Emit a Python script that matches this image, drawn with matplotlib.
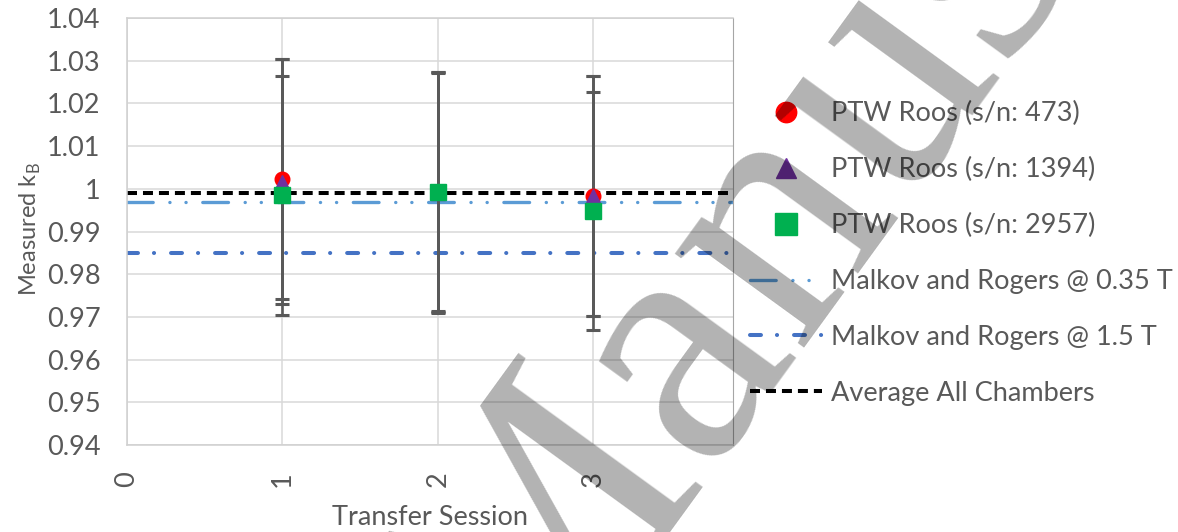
import numpy as np
import matplotlib
matplotlib.use("Agg")
import matplotlib.pyplot as plt
from matplotlib.ticker import FuncFormatter

# --- data ---
sessions = [1, 2, 3]
kb_473 = [1.0023, 0.9993, 0.9983]
kb_1394 = [1.0017, 0.9990, 0.9983]
kb_2957 = [0.9985, 0.9993, 0.9948]
err_473 = [0.0280, 0.0281, 0.0280]
err_1394 = [0.0286, 0.0281, 0.0281]
err_2957 = [0.0280, 0.0280, 0.0279]

malkov_035 = 0.9970
malkov_15 = 0.9849
avg_all = 0.9991

labels = ["PTW Roos (s/n: 473)", "PTW Roos (s/n: 1394)", "PTW Roos (s/n: 2957)",
          "Malkov and Rogers @ 0.35 T", "Malkov and Rogers @ 1.5 T",
          "Average All Chambers"]

plt.rcParams['font.family'] = ['Lato', 'DejaVu Sans']
plt.rcParams['lines.scale_dashes'] = False
txt = '#595959'
fs = 19.5

fig = plt.figure(figsize=(11.78, 5.32), dpi=100)
ax = fig.add_axes([127 / 1178, 1 - 445 / 532, 606 / 1178, 427 / 532])

xmin, xmax = 0, 3.9
ax.set_xlim(xmin, xmax)
ax.set_ylim(0.94, 1.04)

# reference lines
h035, = ax.plot([xmin, xmax], [malkov_035] * 2, color='#5B9BD5', lw=2.4,
                dashes=(18.5, 12, 0.1, 11.5, 0.1, 12), dash_capstyle='round', zorder=2)
h15, = ax.plot([xmin, xmax], [malkov_15] * 2, color='#4472C4', lw=2.9,
               dashes=(7.9, 11.5, 0.1, 12.2), dash_capstyle='round', zorder=2)
havg, = ax.plot([xmin, xmax], [avg_all] * 2, color='black', lw=2.9,
                dashes=(7.2, 4.3), dash_capstyle='butt', zorder=2)

# error bars then markers
for vals, errs in [(kb_473, err_473), (kb_1394, err_1394), (kb_2957, err_2957)]:
    ax.errorbar(sessions, vals, yerr=errs, fmt='none', ecolor='#595959',
                elinewidth=1.9, capsize=5, capthick=2.2, zorder=3)

h473, = ax.plot(sessions, kb_473, 'o', color='#FF0000', ms=10.5, mec='#FF0000', ls='none', zorder=4)
h1394, = ax.plot(sessions, kb_1394, '^', color='#7030A0', ms=10, mec='#7030A0', ls='none', zorder=5)
h2957, = ax.plot(sessions, kb_2957, 's', color='#00B050', ms=11, mec='#00B050', ls='none', zorder=6)

ax.set_xticks([0, 1, 2, 3])
ax.set_yticks(np.arange(0.94, 1.0401, 0.01))
ax.yaxis.set_major_formatter(FuncFormatter(lambda v, p: f"{round(v, 2):g}"))
ax.tick_params(axis='both', length=0, labelsize=fs, labelcolor=txt)
ax.tick_params(axis='x', rotation=90, pad=19)
ax.tick_params(axis='y', pad=19)
ax.grid(True, color='#d9d9d9', lw=1.1)
ax.set_axisbelow(True)
for side in ['left', 'bottom', 'top']:
    ax.spines[side].set_color('#d0d0d0')
    ax.spines[side].set_linewidth(1.1)
ax.spines['right'].set_color('#a6a6a6')
ax.spines['right'].set_linewidth(0.8)

ax.set_xlabel("Transfer Session", fontsize=fs, color=txt)
ax.set_ylabel(r"Measured k$_{\mathregular{B}}$", fontsize=17, color=txt)
ax.xaxis.set_label_coords(0.5, -0.1405)
ax.yaxis.set_label_coords(-0.139, 0.506)

fig.legend([h473, h1394, h2957, h035, h15, havg], labels,
           loc='center left', bbox_to_anchor=(750 / 1178, 1 - 253.5 / 532),
           frameon=False, fontsize=fs, labelcolor=txt, handlelength=2.66,
           handletextpad=0.33, labelspacing=1.14, borderpad=0, borderaxespad=0,
           markerscale=1.4)

# watermark
fig.text(524 / 1178, 1 - 720 / 532, "Manuscript", family='Liberation Serif',
         fontsize=250, rotation=54, rotation_mode='anchor', ha='left', va='baseline',
         color=(0, 0, 0, 0.3), zorder=10)

fig.savefig("out.png", dpi=100)
